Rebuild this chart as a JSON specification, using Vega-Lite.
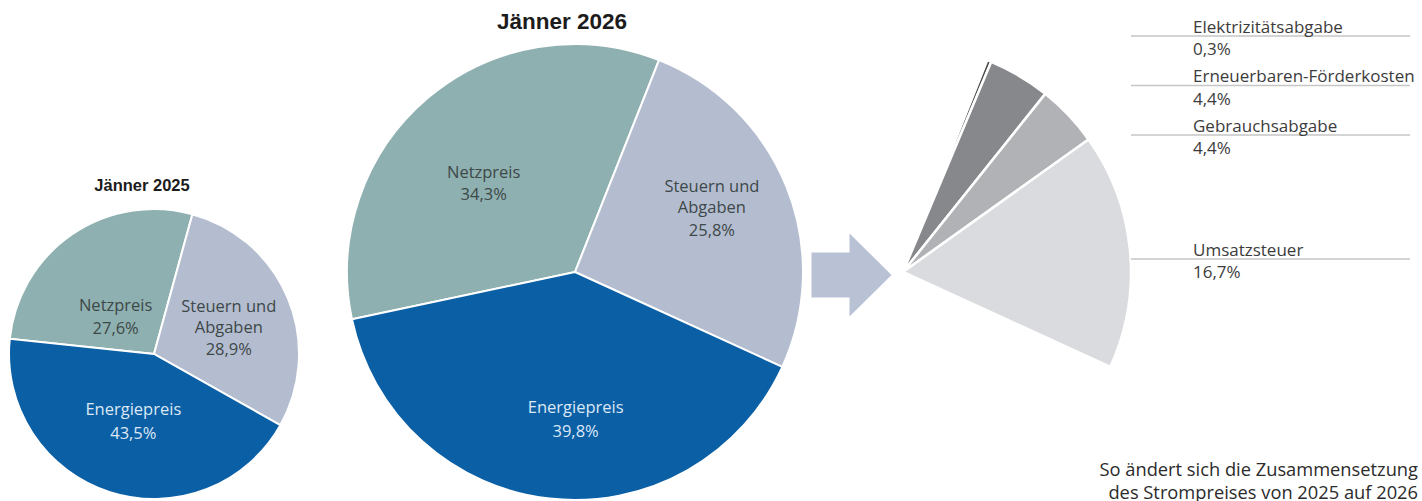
{
  "$schema": "https://vega.github.io/schema/vega-lite/v6.json",
  "padding": 0,
  "background": "white",
  "bounds": "flush",
  "spacing": 0,
  "resolve": {"scale": {"color": "independent", "theta": "independent", "y": "independent"}},
  "config": {
    "view": {"stroke": null},
    "locale": {"number": {"decimal": ",", "thousands": ".", "grouping": [3], "currency": ["", " €"]}},
    "text": {"font": "Open Sans", "fontSize": 16.5}
  },
  "datasets": {
    "pies": [
      {"jahr": "Jänner 2025", "teil": "Netzpreis", "anteil": 0.276},
      {"jahr": "Jänner 2025", "teil": "Steuern und\nAbgaben", "anteil": 0.289},
      {"jahr": "Jänner 2025", "teil": "Energiepreis", "anteil": 0.435},
      {"jahr": "Jänner 2026", "teil": "Netzpreis", "anteil": 0.343},
      {"jahr": "Jänner 2026", "teil": "Steuern und\nAbgaben", "anteil": 0.258},
      {"jahr": "Jänner 2026", "teil": "Energiepreis", "anteil": 0.398}
    ],
    "abgaben": [
      {"teil": "Elektrizitätsabgabe", "anteil": 0.003},
      {"teil": "Erneuerbaren-Förderkosten", "anteil": 0.044},
      {"teil": "Gebrauchsabgabe", "anteil": 0.044},
      {"teil": "Umsatzsteuer", "anteil": 0.167}
    ]
  },
  "hconcat": [
    {
      "width": 308, "height": 354,
      "title": {"text": "Jänner 2025", "font": "Liberation Sans", "fontSize": 16.5, "fontWeight": "bold", "color": "#1c1c1c", "anchor": "middle", "frame": "group", "baseline": "alphabetic", "offset": -207.5, "dx": -12},
      "data": {"name": "pies"},
      "transform": [{"filter": "datum.jahr === 'Jänner 2025'"}],
      "encoding": {
        "theta": {"field": "anteil", "type": "quantitative", "stack": true, "scale": {"range": [2.0839, 8.3671]}},
        "order": {"field": "teil", "sort": "ascending"},
        "y": {"value": "height"}
      },
      "layer": [
        {
          "mark": {"type": "arc", "radius": 145, "stroke": "white", "strokeWidth": 2},
          "encoding": {"color": {"field": "teil", "type": "nominal", "legend": null,
            "scale": {"domain": ["Netzpreis", "Steuern und\nAbgaben", "Energiepreis"], "range": ["#8fb0b0", "#b4bdd0", "#0b5fa5"]}}}
        },
        {
          "mark": {"type": "text", "radius": 68, "baseline": "bottom",
            "dx": {"expr": "datum.teil === 'Netzpreis' ? 0 : datum.teil === 'Energiepreis' ? 0 : 12"},
            "dy": {"expr": "datum.teil === 'Netzpreis' ? 16 : datum.teil === 'Energiepreis' ? -1 : -12.5"},
            "lineBreak": "\n", "lineHeight": 21},
          "encoding": {"text": {"field": "teil"},
            "color": {"condition": {"test": "datum.teil === 'Energiepreis'", "value": "#dce8f5"}, "value": "#3d4848"}}
        },
        {
          "mark": {"type": "text", "radius": 68, "baseline": "top",
            "dx": {"expr": "datum.teil === 'Netzpreis' ? 0 : datum.teil === 'Energiepreis' ? 0 : 12"},
            "dy": {"expr": "datum.teil === 'Netzpreis' ? 23 : datum.teil === 'Energiepreis' ? 7 : 14"}},
          "encoding": {"text": {"field": "anteil", "format": ".1%"},
            "color": {"condition": {"test": "datum.teil === 'Energiepreis'", "value": "#dce8f5"}, "value": "#3d4848"}}
        }
      ]
    },
    {
      "width": 534, "height": 272,
      "title": {"text": "Jänner 2026", "font": "Liberation Sans", "fontSize": 22.5, "fontWeight": "bold", "color": "#1c1c1c", "anchor": "middle", "frame": "group", "baseline": "alphabetic", "offset": -51.5, "dx": -13},
      "data": {"name": "pies"},
      "transform": [{"filter": "datum.jahr === 'Jänner 2026'"}],
      "encoding": {
        "theta": {"field": "anteil", "type": "quantitative", "stack": true, "scale": {"range": [2.0001, 8.2833]}},
        "order": {"field": "teil", "sort": "ascending"},
        "y": {"value": "height"}
      },
      "layer": [
        {
          "mark": {"type": "arc", "radius": 228, "stroke": "white", "strokeWidth": 2},
          "encoding": {"color": {"field": "teil", "type": "nominal", "legend": null,
            "scale": {"domain": ["Netzpreis", "Steuern und\nAbgaben", "Energiepreis"], "range": ["#8fb0b0", "#b4bdd0", "#0b5fa5"]}}}
        },
        {
          "mark": {"type": "text", "radius": 140, "baseline": "bottom",
            "dx": {"expr": "datum.teil === 'Netzpreis' ? -1 : datum.teil === 'Energiepreis' ? 16 : 7"},
            "dy": {"expr": "datum.teil === 'Netzpreis' ? 16 : datum.teil === 'Energiepreis' ? 5 : -25"},
            "lineBreak": "\n", "lineHeight": 21},
          "encoding": {"text": {"field": "teil"},
            "color": {"condition": {"test": "datum.teil === 'Energiepreis'", "value": "#dce8f5"}, "value": "#3d4848"}}
        },
        {
          "mark": {"type": "text", "radius": 140, "baseline": "top",
            "dx": {"expr": "datum.teil === 'Netzpreis' ? -1 : datum.teil === 'Energiepreis' ? 16 : 7"},
            "dy": {"expr": "datum.teil === 'Netzpreis' ? 22 : datum.teil === 'Energiepreis' ? 13 : 3"}},
          "encoding": {"text": {"field": "anteil", "format": ".1%"},
            "color": {"condition": {"test": "datum.teil === 'Energiepreis'", "value": "#dce8f5"}, "value": "#3d4848"}}
        }
      ]
    },
    {
      "width": 19, "height": 275,
      "data": {"values": [{"von": "Jänner 2025", "nach": "Jänner 2026"}]},
      "mark": {"type": "point", "shape": "M-1,-0.5625L-0.05,-0.5625L-0.05,-1.04L1,0L-0.05,1.04L-0.05,0.5625L-1,0.5625Z", "size": 6400, "filled": true, "fill": "#b8c2d4", "opacity": 1, "strokeWidth": 0},
      "encoding": {"y": {"value": "height"}}
    },
    {
      "width": 84, "height": 272,
      "data": {"name": "abgaben"},
      "mark": {"type": "arc", "radius": 228, "stroke": "white", "strokeWidth": 2.5},
      "encoding": {
        "y": {"value": "height"},
        "theta": {"field": "anteil", "type": "quantitative", "stack": true, "scale": {"domain": [0, 1], "range": [0.3787, 6.6619]}},
        "order": {"field": "teil", "sort": "ascending"},
        "color": {"field": "teil", "type": "nominal", "legend": null,
          "scale": {"domain": ["Elektrizitätsabgabe", "Erneuerbaren-Förderkosten", "Gebrauchsabgabe", "Umsatzsteuer"], "range": ["#4d4d4d", "#87888b", "#b1b2b5", "#dadbde"]}}
      }
    },
    {"width": 186, "height": 10, "data": {"values": []}, "mark": "rule", "encoding": {}},
    {
      "width": 279, "height": 501,
      "resolve": {"scale": {"y": "independent"}},
      "layer": [
        {
          "data": {"name": "abgaben"},
          "transform": [{"filter": "datum.teil !== 'Umsatzsteuer'"}],
          "encoding": {"y": {"field": "teil", "type": "nominal", "scale": {"type": "point", "padding": 0, "range": [36, 135]}, "axis": null}},
          "layer": [
            {"mark": {"type": "rule", "color": "#c6c6c6", "strokeWidth": 1.4}},
            {"mark": {"type": "text", "align": "left", "baseline": "alphabetic", "dx": -77.5, "dy": -3.5, "fontSize": 17, "color": "#3c3c3c"},
             "encoding": {"text": {"field": "teil"}}},
            {"mark": {"type": "text", "align": "left", "baseline": "alphabetic", "dx": -77.5, "dy": 19, "fontSize": 17, "color": "#3c3c3c"},
             "encoding": {"text": {"field": "anteil", "format": ".1%"}}}
          ]
        },
        {
          "data": {"name": "abgaben"},
          "transform": [{"filter": "datum.teil === 'Umsatzsteuer'"}],
          "encoding": {"y": {"field": "teil", "type": "nominal", "scale": {"type": "point", "padding": 0, "range": [259, 259]}, "axis": null}},
          "layer": [
            {"mark": {"type": "rule", "color": "#c6c6c6", "strokeWidth": 1.4}},
            {"mark": {"type": "text", "align": "left", "baseline": "alphabetic", "dx": -77.5, "dy": -3.5, "fontSize": 17, "color": "#3c3c3c"},
             "encoding": {"text": {"field": "teil"}}},
            {"mark": {"type": "text", "align": "left", "baseline": "alphabetic", "dx": -77.5, "dy": 19, "fontSize": 17, "color": "#3c3c3c"},
             "encoding": {"text": {"field": "anteil", "format": ".1%"}}}
          ]
        },
        {
          "data": {"values": [{"hinweis": "So ändert sich die Zusammensetzung\ndes Strompreises von 2025 auf 2026"}]},
          "mark": {"type": "text", "align": "right", "baseline": "alphabetic", "lineBreak": "\n", "lineHeight": 23, "font": "Open Sans", "fontSize": 18.3, "color": "#2b2b2b", "dx": 8, "dy": -25},
          "encoding": {"text": {"field": "hinweis"}, "x": {"value": "width"}, "y": {"value": "height"}}
        }
      ]
    }
  ]
}
